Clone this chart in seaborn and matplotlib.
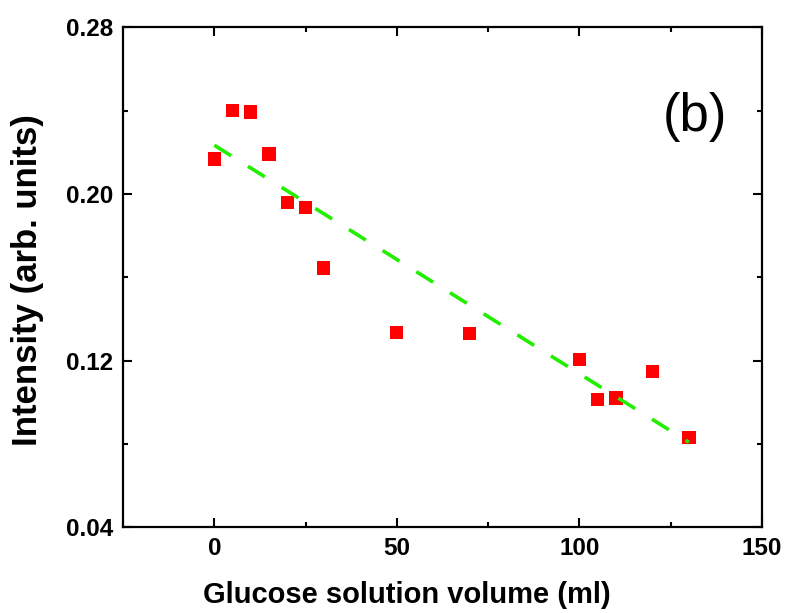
import numpy as np
import pandas as pd
import matplotlib
matplotlib.use("Agg")
import matplotlib.pyplot as plt
import seaborn as sns
from matplotlib.ticker import MultipleLocator

# Measured intensity vs. glucose solution volume
volume_ml = [0, 5, 10, 15, 20, 25, 30, 50, 70, 100, 105, 110, 120, 130]
intensity = [0.2168, 0.2400, 0.2393, 0.2192, 0.1960, 0.1934, 0.1645,
             0.1336, 0.1329, 0.1206, 0.1014, 0.1021, 0.1149, 0.0830]

# Linear trend end points
fit_x = [0, 130]
fit_y = [0.2234, 0.0808]

x_ticks = [0, 50, 100, 150]
y_ticks = [0.04, 0.12, 0.20, 0.28]
y_tick_labels = ["0.04", "0.12", "0.20", "0.28"]

sns.set_theme(style="ticks")
plt.rcParams["font.family"] = ["Liberation Sans", "DejaVu Sans"]
plt.rcParams.update({"text.color": "black", "axes.labelcolor": "black",
                     "xtick.color": "black", "ytick.color": "black"})

fig = plt.figure(figsize=(7.87, 6.13), dpi=100)
ax = fig.add_axes([0.1563, 0.1398, 0.8119, 0.8157])

pts = pd.DataFrame({"volume": volume_ml, "intensity": intensity})
fit = pd.DataFrame({"volume": fit_x, "intensity": fit_y})

sns.lineplot(data=fit, x="volume", y="intensity", ax=ax, color="#22ee00",
             lw=2.6, linestyle=(0, (5.5, 5.5)), zorder=3)
sns.scatterplot(data=pts, x="volume", y="intensity", ax=ax, marker="s",
                s=90, color="#ff0000", edgecolor="none", linewidth=0, zorder=2)

ax.set_xlim(-25, 150)
ax.set_ylim(0.04, 0.28)
ax.set_xticks(x_ticks)
ax.set_yticks(y_ticks)
ax.set_yticklabels(y_tick_labels)
ax.xaxis.set_minor_locator(MultipleLocator(25))
ax.yaxis.set_minor_locator(MultipleLocator(0.04))

ax.tick_params(which="both", direction="in", top=True, right=True, width=1.5,
               color="black")
ax.tick_params(which="major", length=6.5, pad=7, labelsize=17.5)
ax.tick_params(which="minor", length=3.5)
for lab in ax.get_xticklabels() + ax.get_yticklabels():
    lab.set_fontweight("bold")

for sp in ax.spines.values():
    sp.set_linewidth(1.6)
    sp.set_color("black")

ax.set_xlabel("Glucose solution volume (ml)", fontsize=21, fontweight="bold")
ax.set_ylabel("Intensity (arb. units)", fontsize=25, fontweight="bold")
ax.xaxis.set_label_coords(0.444, -0.108)
ax.yaxis.set_label_coords(-0.124, 0.494)

ax.text(0.895, 0.82, "(b)", transform=ax.transAxes, fontsize=38,
        ha="center", va="center", color="black")

fig.savefig("out.png", dpi=100)
